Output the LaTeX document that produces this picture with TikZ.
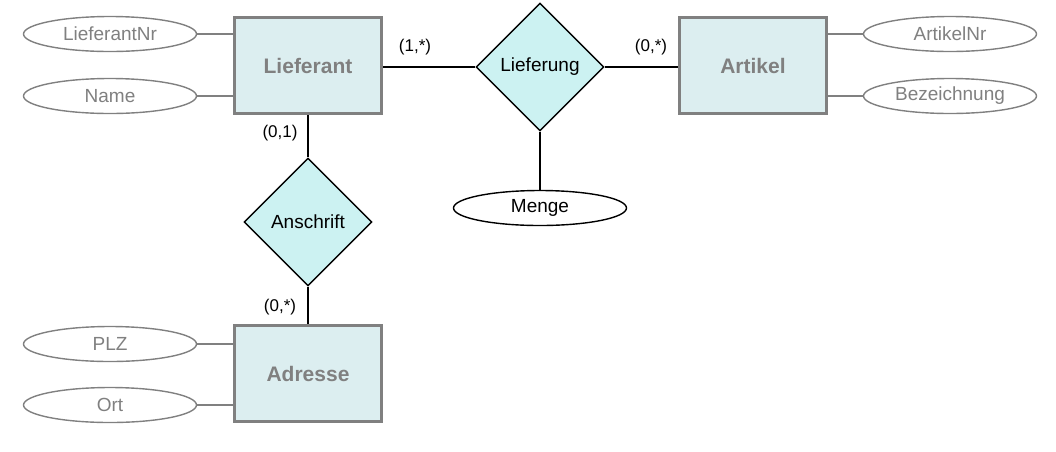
\documentclass[tikz,border=0pt]{standalone}
\usepackage{fontspec}
\setmainfont{Liberation Sans}
\usetikzlibrary{shapes,positioning,arrows,calc}
\definecolor{entfill}{HTML}{DCEEF0}
\definecolor{relfill}{HTML}{CCF2F2}
\definecolor{grau}{HTML}{808080}
\tikzset{
	entity/.style={draw=grau,line width=3pt,fill=entfill,minimum width=147pt,minimum height=96pt,inner sep=0pt,text=grau,font=\fontsize{21}{24}\selectfont\bfseries},
	rel/.style={diamond,draw=black,line width=1.4pt,fill=relfill,minimum width=128pt,minimum height=128pt,inner sep=0pt,aspect=1,font=\fontsize{19}{22}\selectfont},
	attr/.style={ellipse,draw=grau,line width=1.4pt,minimum width=173pt,minimum height=35pt,inner sep=0pt,text=grau,font=\fontsize{19}{22}\selectfont},
	card/.style={inner sep=0pt,font=\fontsize{17}{20}\selectfont},
	attrline/.style={draw=grau,line width=1.5pt},
	relline/.style={draw=black,line width=2pt}
}
\begin{document}
\begin{tikzpicture}[x=1pt,y=-1pt]
				\useasboundingbox (0,0) rectangle (1056,451);
				% Entitaeten
				\node[entity](lief) at (308,65.5) {Lieferant};
				\node[entity](art) at (753,65.5) {Artikel};
				\node[entity](adr) at (308,373.5) {Adresse};
				% Beziehungen
				\node[rel](liefg) at (540,67) {Lieferung};
				\node[rel](anschr) at (308,222) {Anschrift};
				% Attribute
				\node[attr](lnr) at (110,34) {LieferantNr};
				\node[attr](name) at (110,96) {Name};
				\node[attr](anr) at (950,34) {ArtikelNr};
				\node[attr](bez) at (950,96) {Bezeichnung};
				\node[attr](plz) at (110,344) {PLZ};
				\node[attr](ort) at (110,405) {Ort};
				\node[attr,draw=black,text=black](menge) at (540,208) {Menge};
				% Kardinalitaeten
				\node[card](c1) at (415,47) {(1,*)};
				\node[card](c2) at (651,47) {(0,*)};
				\node[card](c3) at (280,133) {(0,1)};
				\node[card](c4) at (280,307) {(0,*)};
				
				\draw[relline] (liefg.west) -- (liefg.west -| lief.east);
				\draw[relline] (liefg.east) -- (liefg.east -| art.west);
				\draw[relline] (liefg) -- (menge);
				\draw[relline] (lief) -- (anschr);
				\draw[relline] (anschr) -- (adr);
				
				\draw[attrline] (lnr.east) -- (lnr.east -| lief.west);
				\draw[attrline] (name.east) -- (name.east -| lief.west);
				\draw[attrline] (anr.west) -- (anr.west -| art.east);
				\draw[attrline] (bez.west) -- (bez.west -| art.east);
				\draw[attrline] (plz.east) -- (plz.east -| adr.west);
				\draw[attrline] (ort.east) -- (ort.east -| adr.west);
			\end{tikzpicture}
\end{document}
